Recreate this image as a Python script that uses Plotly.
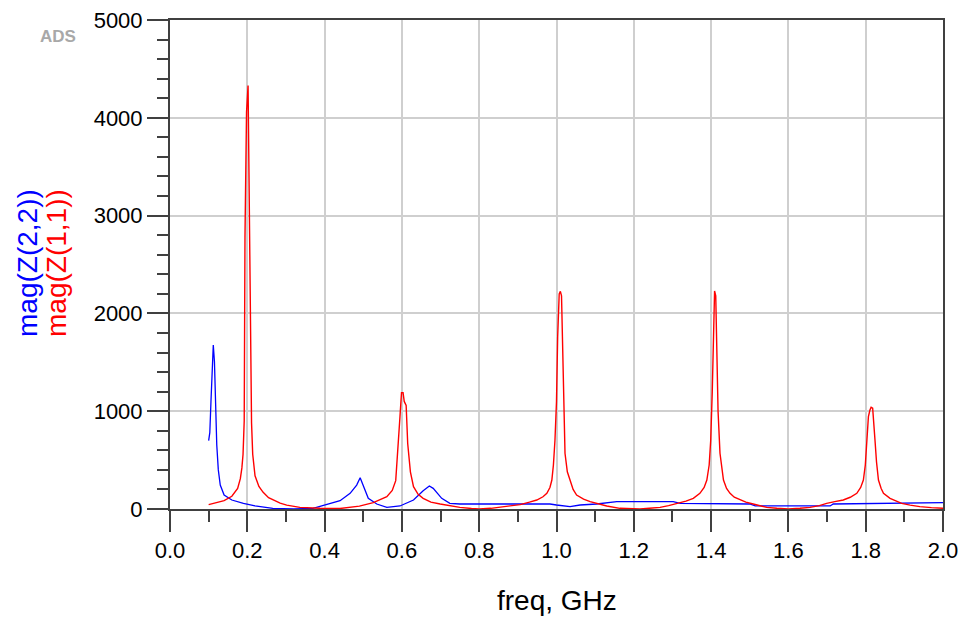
import plotly.graph_objects as go

# ---- data (freq in GHz, magnitude) ----
freq_z11 = [0.100, 0.120, 0.140, 0.160, 0.175, 0.182, 0.186, 0.189, 0.192, 0.194, 0.198, 0.202,
            0.205, 0.208, 0.211, 0.214, 0.220, 0.230, 0.241, 0.255, 0.267, 0.285, 0.302, 0.336,
            0.388, 0.440, 0.490, 0.526, 0.561, 0.575, 0.584, 0.590, 0.595, 0.599, 0.603, 0.606,
            0.611, 0.615, 0.618, 0.622, 0.630, 0.642, 0.655, 0.675, 0.699, 0.725, 0.750, 0.780,
            0.800, 0.830, 0.854, 0.880, 0.906, 0.930, 0.949, 0.965, 0.975, 0.983, 0.988, 0.992,
            0.996, 1.000, 1.003, 1.007, 1.010, 1.013, 1.016, 1.019, 1.022, 1.028, 1.035, 1.043,
            1.052, 1.070, 1.087, 1.110, 1.130, 1.164, 1.216, 1.240, 1.268, 1.290, 1.311, 1.335,
            1.354, 1.371, 1.382, 1.389, 1.395, 1.399, 1.403, 1.406, 1.409, 1.412, 1.415, 1.418,
            1.423, 1.428, 1.432, 1.440, 1.449, 1.460, 1.475, 1.490, 1.509, 1.525, 1.544, 1.570,
            1.600, 1.630, 1.656, 1.680, 1.699, 1.720, 1.742, 1.760, 1.777, 1.787, 1.794, 1.799,
            1.803, 1.807, 1.811, 1.814, 1.818, 1.821, 1.824, 1.828, 1.833, 1.840, 1.846, 1.863,
            1.880, 1.893, 1.915, 1.940, 1.970, 2.000]
mag_z11 = [45, 65, 85, 130, 210, 310, 420, 560, 900, 2780, 4060, 4330,
           3350, 2100, 880, 560, 340, 230, 170, 115, 90, 60, 40, 17,
           7, 5, 30, 65, 126, 190, 290, 600, 944, 1190, 1190, 1100,
           1060, 670, 570, 380, 228, 150, 109, 70, 51, 30, 17, 5,
           0, 7, 17, 30, 45, 70, 92, 125, 160, 220, 296, 450,
           700, 1100, 1762, 2200, 2225, 2180, 1600, 900, 570, 380, 296, 200,
           143, 100, 75, 50, 31, 7, 0, 7, 17, 35, 58, 80,
           109, 160, 220, 296, 450, 700, 1200, 1900, 2230, 2180, 1700, 1000,
           570, 400, 296, 210, 160, 120, 92, 70, 51, 35, 17, 7,
           0, 7, 17, 35, 58, 75, 92, 120, 160, 220, 296, 450,
           672, 944, 1012, 1040, 1030, 900, 705, 480, 296, 210, 160, 109,
           80, 58, 40, 24, 14, 7]

freq_z22 = [0.100, 0.103, 0.106, 0.109, 0.112, 0.115, 0.118, 0.121, 0.125, 0.130, 0.140,
            0.160, 0.190, 0.220, 0.266, 0.320, 0.370, 0.440, 0.466, 0.483, 0.492, 0.500,
            0.513, 0.535, 0.561, 0.595, 0.630, 0.655, 0.671, 0.681, 0.703, 0.724, 0.750,
            0.900, 0.983, 1.000, 1.035, 1.061, 1.104, 1.156, 1.302, 1.320, 1.500, 1.514,
            1.708, 1.716, 1.800, 1.900, 2.000]
mag_z22 = [700, 780, 1100, 1455, 1677, 1506, 1097, 654, 400, 245, 143,
           92, 58, 31, 7, 0, 7, 85, 160, 245, 320, 245,
           109, 51, 17, 31, 92, 187, 235, 211, 109, 58, 51,
           51, 51, 41, 24, 41, 51, 75, 75, 58, 51, 31,
           31, 51, 55, 62, 65]

x_ticks = [0.0, 0.2, 0.4, 0.6, 0.8, 1.0, 1.2, 1.4, 1.6, 1.8, 2.0]
y_ticks = [0, 1000, 2000, 3000, 4000, 5000]

W, H = 964, 617
L, R, T, B = 170, 21, 20, 108
pw, ph = W - L - R, H - T - B

def px(x):
    return (x - L) / pw

def py(y):
    return (H - B - y) / ph

fig = go.Figure()
fig.add_trace(go.Scatter(x=freq_z22, y=mag_z22, mode="lines",
                         line=dict(color="#0000ff", width=1.3), name="mag(Z(2,2))"))
fig.add_trace(go.Scatter(x=freq_z11, y=mag_z11, mode="lines",
                         line=dict(color="#ff0000", width=1.4), name="mag(Z(1,1))"))

axis_col = "#404040"
grid_col = "#cfcfcf"
tick_font = dict(family="Liberation Sans, Arial, sans-serif", size=22, color="#000000")

fig.update_xaxes(range=[0, 2], tickvals=x_ticks, ticktext=[f"{v:.1f}" for v in x_ticks],
                 ticks="outside", ticklen=21, tickwidth=2, tickcolor=axis_col,
                 showline=True, linecolor=axis_col, linewidth=2, mirror=True,
                 showgrid=True, gridcolor=grid_col, gridwidth=2, zeroline=False,
                 tickfont=tick_font, automargin=False,
                 minor=dict(dtick=0.1, tick0=0, ticks="outside", ticklen=11, tickwidth=2,
                            tickcolor=axis_col, showgrid=False))
fig.update_yaxes(range=[0, 5000], tickvals=y_ticks, ticktext=[str(v) for v in y_ticks],
                 ticks="outside", ticklen=21, tickwidth=2, tickcolor=axis_col,
                 showline=True, linecolor=axis_col, linewidth=2, mirror=True,
                 showgrid=True, gridcolor=grid_col, gridwidth=2, zeroline=False,
                 tickfont=tick_font, automargin=False,
                 minor=dict(dtick=200, tick0=0, ticks="outside", ticklen=11, tickwidth=2,
                            tickcolor=axis_col, showgrid=False))

title_font = "Liberation Sans, Arial, sans-serif"
fig.add_annotation(text="freq, GHz", xref="paper", yref="paper", x=px(557), y=py(600),
                   xanchor="center", yanchor="middle", showarrow=False,
                   font=dict(family=title_font, size=28, color="#000000"))
fig.add_annotation(text="mag(Z(2,2))", xref="paper", yref="paper", x=px(27), y=py(263),
                   xanchor="center", yanchor="middle", showarrow=False, textangle=-90,
                   font=dict(family=title_font, size=28, color="#0000ff"))
fig.add_annotation(text="mag(Z(1,1))", xref="paper", yref="paper", x=px(56), y=py(263),
                   xanchor="center", yanchor="middle", showarrow=False, textangle=-90,
                   font=dict(family=title_font, size=28, color="#ff0000"))
fig.add_annotation(text="<b>ADS</b>", xref="paper", yref="paper", x=px(58), y=py(37),
                   xanchor="center", yanchor="middle", showarrow=False,
                   font=dict(family=title_font, size=17, color="#a8a8a8"))

fig.update_layout(width=W, height=H, margin=dict(l=L, r=R, t=T, b=B),
                  paper_bgcolor="white", plot_bgcolor="white", showlegend=False)

fig.write_html("out.html")
